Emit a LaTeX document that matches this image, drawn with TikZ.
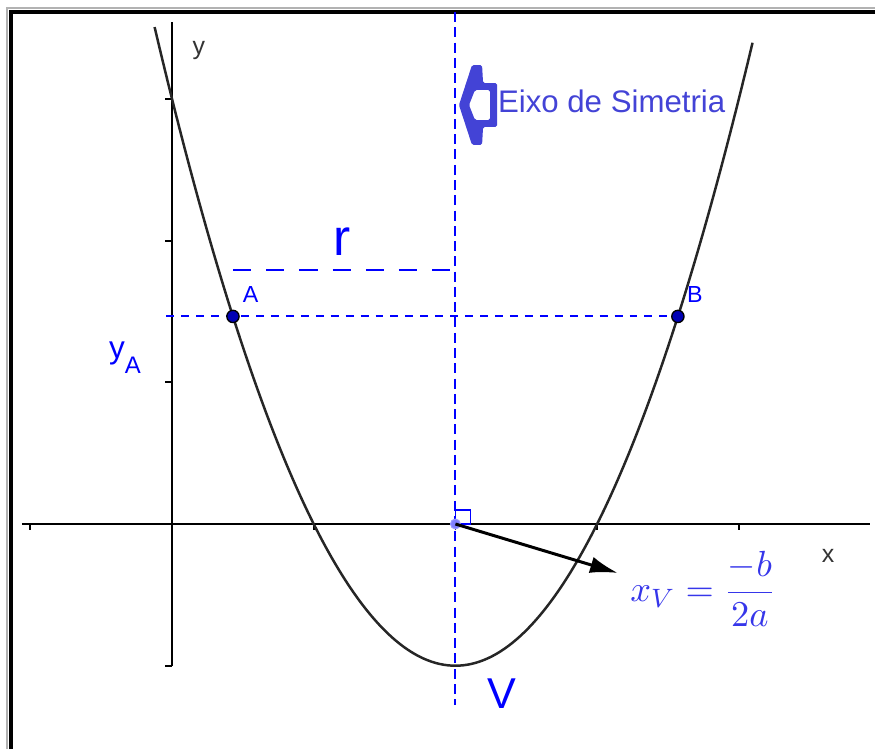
\documentclass[tikz,border=0pt]{standalone}
\usepackage{amsmath}
\usepackage{fontspec}
\setsansfont{Liberation Sans}
\usepackage{tikz}
\usetikzlibrary{arrows.meta,positioning}
\definecolor{ggblue}{HTML}{0000FF}
\definecolor{ggdark}{HTML}{0000B4}
\definecolor{gglight}{HTML}{7F7FFF}
\definecolor{ggeixo}{HTML}{4343D6}
\definecolor{ggformula}{HTML}{3636EA}
\tikzset{
  axisline/.style={line width=0.55pt, draw=black},
  curveline/.style={line width=0.75pt, draw=black!85},
  symline/.style={draw=ggblue, line width=0.6pt, dash pattern=on 3pt off 1.6pt},
  levelline/.style={draw=ggblue, line width=0.6pt, dash pattern=on 2.4pt off 2.1pt},
  rline/.style={draw=ggblue, line width=0.8pt, dash pattern=on 5.5pt off 4.5pt},
  vecarrow/.style={-{Latex[length=8.4pt, width=5pt]}, line width=0.9pt, draw=black},
  ggpt/.style={circle, draw=black, fill=ggdark, line width=0.4pt, inner sep=0pt, minimum size=1.3mm},
  vpt/.style={circle, draw=gglight!80!white, fill=gglight, line width=0.3pt, inner sep=0pt, minimum size=1.05mm},
  axislabel/.style={font=\sffamily\fontsize{7.5}{9}\selectfont, text=black!80, inner sep=0pt},
  ptlabel/.style={font=\sffamily\fontsize{7}{8}\selectfont, text=ggblue, inner sep=0pt},
  biglabel/.style={font=\sffamily\fontsize{13}{15}\selectfont, text=ggblue, inner sep=0pt},
  eixolabel/.style={font=\sffamily\fontsize{9.4}{11}\selectfont, text=ggeixo, inner sep=0pt},
  formula/.style={font=\fontsize{10.95}{13}\selectfont, text=ggformula, inner sep=0pt}
}

\begin{document}
\begin{tikzpicture}[x=1.5cm, y=1.5cm]
  \useasboundingbox (-1.214,-1.588) rectangle (4.961,3.698);
  % frame
  \draw[black!30, line width=0.6pt] (-1.162,-1.588) -- (-1.162,3.640) -- (4.961,3.640);
  \draw[black, line width=1.1pt] (-1.136,-1.588) -- (-1.136,3.613) -- (4.961,3.613);

  % axes
  \draw[axisline] (-1.059,0) -- (4.926,0);
  \draw[axisline] (0,-1.0) -- (0,3.543);
  \foreach \t in {-1,1,2,3,4}
    \draw[axisline] (\t,0) -- (\t,-0.045);
  \foreach \t in {-1,1,2,3}
    \draw[axisline] (0,\t) -- (-0.05,\t);
  \node[axislabel] (xlab) at (4.63,-0.226) {x};
  \node[axislabel] (ylab) at (0.19,3.34) {y};

  % eixo de simetria
  \coordinate (symtop) at (2,3.613);
  \coordinate (symbot) at (2,-1.277);
  \draw[symline] (symtop) -- (symbot);
  \fill[ggeixo, even odd rule, rounded corners=0.5pt]
    (2.025,2.957) -- (2.117,3.239) -- (2.188,3.239) -- (2.195,3.112) -- (2.294,3.112)
    -- (2.294,2.802) -- (2.195,2.802) -- (2.188,2.675) -- (2.117,2.675) -- cycle
    (2.096,2.957) -- (2.138,3.063) -- (2.244,3.063) -- (2.244,2.851) -- (2.138,2.851) -- cycle;
  \node[eixolabel, anchor=west] (eixo) at (2.296,2.985) {Eixo de Simetria};

  % parabola
  \draw[curveline, domain=-0.123:4.098, samples=150, smooth] plot (\x, {(\x-2)^2-1});

  % y_A and r
  \coordinate (pA) at (0.43,1.4649);
  \coordinate (pB) at (3.57,1.4649);
  \coordinate (yA0) at (-0.04,1.4649);
  \draw[levelline] (yA0) -- (pB);
  \coordinate (r0) at (0.43,1.7925);
  \coordinate (r1) at (2,1.7925);
  \draw[rline] (r0) -- (r1);
  \node[font=\sffamily\fontsize{15.5}{17}\selectfont, text=ggblue, inner sep=0pt] (rlab) at (1.2,1.994) {r};
  \node[font=\sffamily\fontsize{9.5}{11}\selectfont, text=ggblue, inner sep=0pt] (yAlab) at (-0.332,1.175)
    {y\raisebox{-4.6pt}{\fontsize{7.2}{8}\selectfont A}};

  % points
  \node[ggpt] (A) at (pA) {};
  \node[ggpt] (B) at (pB) {};
  \node[ptlabel, above right=0.88mm and 0.46mm of A] (Alab) {A};
  \node[ptlabel, above right=0.92mm and 0.40mm of B] (Blab) {B};

  % vertice
  \draw[ggblue, line width=0.5pt] (2,0) rectangle (2.106,0.099);
  \node[vpt] (V0) at (2,0) {};
  \coordinate (xvtip) at (3.147,-0.346);
  \draw[vecarrow] (V0.center) -- (xvtip);
  \node[formula] (xv) at (3.748,-0.459) {$\displaystyle x_V=\frac{-b}{2a}$};
  \node[biglabel] (Vlab) at (2.329,-1.2) {V};
\end{tikzpicture}
\end{document}
